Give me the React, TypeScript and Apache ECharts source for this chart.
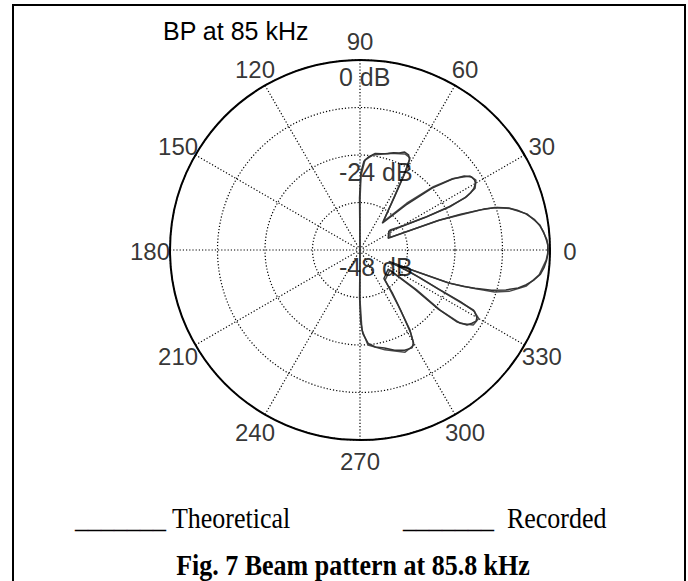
import React, { useEffect, useRef } from 'react';
import * as echarts from 'echarts';

// Angle tick labels (degrees) and radial ring labels (dB)
const angleTicks = [0, 30, 60, 90, 120, 150, 180, 210, 240, 270, 300, 330];
const dbRingLabels = [0, -24, -48];

// Theoretical beam pattern contour (angle in degrees, level in dB)
const theoAngle = [
  -90, -90, -88.6, -85.2, -76, -66.2, -60.4, -58, -55.4, -50.2,
  -33.7, -35.2, -36.9, -36.2, -33.5, -30.0, -27.9, -26.6, -23.2,
  -21.8, -20.9, -20.3, -18.7, -17.3, -15.5, -12.2, -7.9, -3.1, 0,
  3.1, 7.9, 12.2, 15.5, 17.5, 18.4, 20.6, 22.9,
  33.7, 30.2, 26.5, 25.7, 26.6, 28.2, 31.1, 33.9, 37.5, 40.8, 45, 50.5,
  57.5, 60.0, 61.5, 64.9, 72.8, 82.2, 86.8, 89.2, 90, 90,
];
const theoDb = [
  -48, -35.4, -27.8, -23.9, -22, -19.8, -20.4, -24.2, -31.1, -38.1,
  -38.9, -30.5, -22.7, -16.7, -13.7, -13.4, -15.6, -25.4, -35.2,
  -39.8, -32.7, -23.7, -17.8, -12.4, -8.9, -5.0, -2.3, -0.9, -0.4,
  -0.7, -2.1, -4.85, -8.7, -12.3, -16.0, -26.4, -39.8,
  -38.9, -36.3, -29.2, -22.8, -17.9, -15.0, -13.8, -14.5, -18.3, -23.5, -31.3, -38.7,
  -31.5, -25.3, -21.5, -21.2, -22.4, -23.8, -25.2, -29.1, -35.4, -48,
];

// Recorded beam pattern contour (angle in degrees, level in dB)
const recAngle = [
  -90, -90.5, -89.5, -88, -85, -81, -76, -71, -66, -62, -60, -58.5, -56, -53, -50,
  -34, -35.5, -37, -36.5, -35, -33.2, -31.5, -30, -28.2, -27.2, -26.4, -24.8, -23.5,
  -21.6, -21.1, -20.4, -19.4, -18.4, -17, -15.3, -13.5, -11.8, -9.8, -7.6, -5.5, -3.2, -1.2, 0,
  1.5, 3.4, 5.6, 7.8, 10, 12.3, 14.2, 15.8, 17.2, 18.3, 19.5, 20.7, 22.6,
  33.2, 30, 26.6, 25.9, 26.4, 27.3, 28.4, 30, 31.4, 33.2, 35.4, 37.6, 40.6, 44.5, 50.2,
  57, 59.6, 61.2, 63, 65.5, 68, 71, 74, 77.5, 81, 84.5, 87.5, 89.4, 90.5, 90,
];
const recDb = [
  -48, -36, -30, -26.8, -24.3, -23.2, -22.5, -21.2, -20.3, -20.0, -21.0, -23.6, -29.5, -34.5, -38.6,
  -39.4, -31, -23.2, -17.4, -15, -14.2, -13.6, -13.9, -15.2, -19.5, -25.9, -31.5, -35.8,
  -40.2, -33.4, -24.3, -20.2, -17.4, -13.2, -9.8, -6.9, -5.1, -3.4, -2.0, -1.3, -0.8, -0.5, -0.6,
  -0.5, -0.9, -1.4, -2.2, -3.3, -5.1, -7.0, -9.0, -11.6, -15.1, -21, -26.9, -40.3,
  -39.3, -36.8, -29.7, -23.3, -18.4, -16.6, -15.3, -14.3, -14.1, -14.3, -15.7, -18.7, -24, -31.8, -39.2,
  -32, -25.8, -22, -21.0, -20.8, -21.6, -22.0, -22.7, -23.1, -23.3, -24.3, -25.6, -28.5, -34.8, -48,
];

const toPolar = (angles: number[], dbs: number[]) =>
  angles.map((a, i) => [dbs[i], a < 0 ? a + 360 : a]);

export default function App() {
  const ref = useRef<HTMLDivElement>(null);
  useEffect(() => {
    const chart = echarts.init(ref.current!, null, { renderer: 'svg' });
    const sans = '"Liberation Sans", Arial, sans-serif';
    const serif = '"Liberation Serif", "Times New Roman", serif';
    const dotted = { color: '#000', width: 1.2, type: [1.2, 2] };
    chart.setOption({
      animation: false,
      backgroundColor: '#fff',
      polar: [
        { center: [360, 250], radius: 190 },
        { center: [360, 251], radius: 210 },
      ],
      angleAxis: [
        {
          polarIndex: 0, type: 'value', min: 0, max: 360, interval: 30,
          startAngle: 0, clockwise: false,
          axisLine: { show: true, lineStyle: { color: '#000', width: 2 } },
          axisTick: { show: false },
          axisLabel: { show: false },
          splitLine: { show: true, lineStyle: dotted },
        },
        {
          polarIndex: 1, type: 'value', min: 0, max: 360, interval: 30,
          startAngle: 0, clockwise: false, show: false,
        },
      ],
      radiusAxis: [
        {
          polarIndex: 0, type: 'value', min: -48, max: 0, interval: 12,
          axisLine: { show: false }, axisTick: { show: false },
          axisLabel: { show: false },
          splitLine: { show: true, lineStyle: dotted },
        },
        { polarIndex: 1, type: 'value', min: 0, max: 1, show: false },
      ],
      series: [
        {
          name: 'Theoretical', type: 'line', coordinateSystem: 'polar', polarIndex: 0,
          data: toPolar(theoAngle, theoDb), symbol: 'none', showSymbol: false,
          lineStyle: { color: '#4a4a4a', width: 1.5 }, z: 3, silent: true,
        },
        {
          name: 'Recorded', type: 'line', coordinateSystem: 'polar', polarIndex: 0,
          data: toPolar(recAngle, recDb), symbol: 'none', showSymbol: false,
          lineStyle: { color: '#333333', width: 1.5 }, z: 3, silent: true,
        },
        {
          type: 'scatter', coordinateSystem: 'polar', polarIndex: 1,
          data: angleTicks.map((a) => [1, a]), symbolSize: 1,
          itemStyle: { color: 'rgba(0,0,0,0)' }, silent: true,
          label: {
            show: true, position: 'inside', color: '#000', fontSize: 24, fontFamily: sans,
            formatter: (p: any) => String(p.value[1]),
          },
        },
        {
          type: 'scatter', coordinateSystem: 'polar', polarIndex: 0,
          data: dbRingLabels.map((v) => [v, 90]), symbolSize: 1,
          itemStyle: { color: 'rgba(0,0,0,0)' }, silent: true, z: 5,
          label: {
            show: true, position: 'inside', align: 'left', verticalAlign: 'middle',
            offset: [-21, 17], color: '#000', fontSize: 25, fontFamily: sans,
            formatter: (p: any) => `${p.value[0]} dB`,
          },
        },
      ],
      graphic: [
        {
          type: 'rect', shape: { x: 13, y: 5, width: 672, height: 620 },
          style: { fill: 'none', stroke: '#000', lineWidth: 2 }, silent: true,
        },
        {
          type: 'text', x: 163, y: 31,
          style: { text: 'BP at 85 kHz', fontSize: 25, fontFamily: sans, fill: '#000', verticalAlign: 'middle' },
        },
        {
          type: 'text', x: 75, y: 518, scaleY: 1.15,
          style: { text: '_______ Theoretical', fontSize: 26, fontFamily: serif, fill: '#000', verticalAlign: 'middle' },
        },
        {
          type: 'text', x: 403, y: 518, scaleY: 1.15,
          style: { text: '_______\u00a0 Recorded', fontSize: 26, fontFamily: serif, fill: '#000', verticalAlign: 'middle' },
        },
        {
          type: 'text', x: 353, y: 565, scaleY: 1.15,
          style: {
            text: 'Fig. 7 Beam pattern at 85.8 kHz', fontSize: 26, fontWeight: 'bold',
            fontFamily: serif, fill: '#000', align: 'center', verticalAlign: 'middle',
          },
        },
      ],
    });
    return () => chart.dispose();
  }, []);
  return (
    <div
      ref={ref}
      style={{ position: 'absolute', left: 0, top: 0, width: 688, height: 581, background: '#fff' }}
    />
  );
}
